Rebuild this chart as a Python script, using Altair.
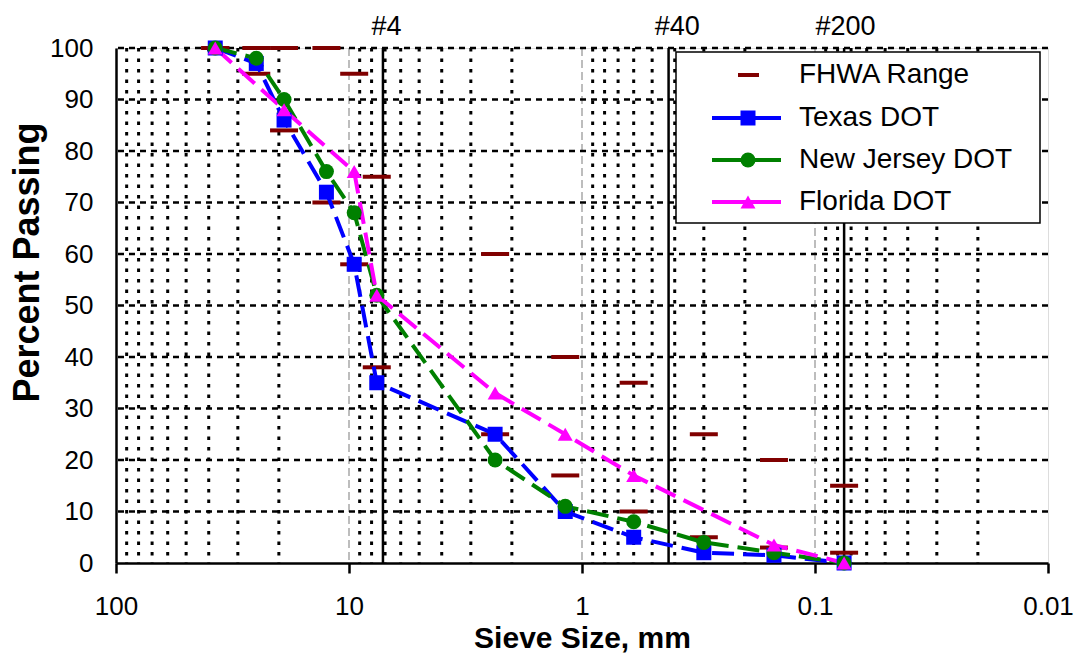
import altair as alt
import pandas as pd

# ---------------- data ----------------
sieve_mm = [37.5, 25, 19, 12.5, 9.5, 7.6, 2.36, 1.18, 0.6, 0.3, 0.15, 0.075]
fhwa_upper = [100, 100, 100, 100, 95, 75, 60, 40, 35, 25, 20, 15]
fhwa_lower = [100, 95, 84, 70, 58, 38, 25, 17, 10, 5, 3, 2]
texas_dot = [100, 97, 86, 72, 58, 35, 25, 10, 5, 2, 1.5, 0]
new_jersey_dot = [100, 98, 90, 76, 68, 52, 20, 11, 8, 4, 2, 0]
florida_dot = [100, None, 88, None, 76, 52, 33, 25, 17, None, 3.5, 0]

series_names = ["Texas DOT", "New Jersey DOT", "Florida DOT"]
series_colors = ["#0000FF", "#008000", "#FF00FF"]
series_shapes = ["square", "circle", "triangle-up"]
fhwa_name = "FHWA Range"
fhwa_color = "#800000"

sieve_names = ["#4", "#40", "#200"]
sieve_line_mm = [7.15, 0.425, 0.075]
sieve_label_mm = [6.9, 0.39, 0.074]

x_ticks = [100, 10, 1, 0.1, 0.01]
y_ticks = [0, 10, 20, 30, 40, 50, 60, 70, 80, 90, 100]
y_grid = [10, 20, 30, 40, 50, 60, 70, 80, 90, 100]
decade_lines = [10, 1, 0.1]
minor_mult = [2, 3, 4, 5, 6, 7, 8, 9]
decade_base = [10, 1, 0.1, 0.01]

# ---------------- tables ----------------
rows = []
for name, vals in zip(series_names, [texas_dot, new_jersey_dot, florida_dot]):
    for s, v in zip(sieve_mm, vals):
        if v is not None:
            rows.append({"series": name, "mm": s, "pct": v})
series_df = pd.DataFrame(rows)

fhwa_df = pd.DataFrame(
    [{"mm": s, "pct": v} for s, v in zip(sieve_mm, fhwa_upper)]
    + [{"mm": s, "pct": v} for s, v in zip(sieve_mm, fhwa_lower)]
)
minor_df = pd.DataFrame({"mm": [m * d for d in decade_base for m in minor_mult]})
decade_df = pd.DataFrame({"mm": decade_lines})
hgrid_df = pd.DataFrame({"pct": y_grid})
sieve_df = pd.DataFrame({"name": sieve_names, "mm": sieve_line_mm, "lab": sieve_label_mm})

FONT = "Liberation Sans"
W, H = 932, 515

xscale = alt.Scale(type="log", domain=[0.01, 100], reverse=True, nice=False)
yscale = alt.Scale(domain=[0, 100], nice=False, zero=False)

xaxis = alt.Axis(values=x_ticks, format="~g", title="Sieve Size, mm", grid=False,
                 tickSize=10, tickWidth=2.5, tickColor="black",
                 domainColor="black", domainWidth=2.5,
                 labelFontSize=26, labelPadding=20, labelColor="black",
                 labelFlush=False, labelOverlap=False, labelFont=FONT,
                 titleFontSize=30, titleFontWeight="bold", titleColor="black",
                 titleFont=FONT, titleY=84, titleBaseline="alphabetic")
yaxis = alt.Axis(values=y_ticks, title="Percent Passing", grid=False, ticks=False,
                 domainColor="black", domainWidth=2.5,
                 labelFontSize=26, labelPadding=23, labelColor="black",
                 labelFlush=False, labelOverlap=False, labelFont=FONT,
                 titleFontSize=36, titleFontWeight="bold", titleColor="black",
                 titleFont=FONT, titleX=-78, titleY=214, titleAngle=270,
                 titleAlign="center", titleBaseline="alphabetic")


def X(field="mm"):
    return alt.X(f"{field}:Q", scale=xscale, axis=xaxis)


def Y(field="pct"):
    return alt.Y(f"{field}:Q", scale=yscale, axis=yaxis)


decade = alt.Chart(decade_df).mark_rule(color="#9a9a9a", strokeWidth=1.3,
                                         strokeDash=[8, 4]).encode(x=X())
minor = alt.Chart(minor_df).mark_rule(color="black", strokeWidth=3,
                                       strokeDash=[3.5, 7]).encode(x=X())
hgrid = alt.Chart(hgrid_df).mark_rule(color="black", strokeWidth=2.5,
                                       strokeDash=[6, 5]).encode(y=Y())
sieves = alt.Chart(sieve_df).mark_rule(color="black", strokeWidth=2.5).encode(x=X())

fhwa = alt.Chart(fhwa_df).mark_rule(color=fhwa_color, strokeWidth=4,
                                     xOffset=-14, x2Offset=14).encode(
    x=X(), x2="mm:Q", y=Y())

color_scale = alt.Scale(domain=series_names, range=series_colors)
lines = alt.Chart(series_df).mark_line(strokeWidth=4, strokeDash=[22, 9]).encode(
    x=X(), y=Y(), color=alt.Color("series:N", scale=color_scale, legend=None),
    detail="series:N")
points = alt.Chart(series_df).mark_point(filled=True, opacity=1, size=225).encode(
    x=X(), y=Y(),
    color=alt.Color("series:N", scale=color_scale, legend=None),
    shape=alt.Shape("series:N", scale=alt.Scale(domain=series_names, range=series_shapes),
                    legend=None))

top_labels = alt.Chart(sieve_df).mark_text(fontSize=27, font=FONT, color="black",
                                            baseline="middle", align="center").encode(
    x=alt.X("lab:Q", scale=xscale, axis=xaxis), y=alt.value(27 - 48), text="name:N")

# ---------------- legend (drawn by hand, pixel layout inside plot area) ----------------
LX0, LX1, LY0, LY1 = 676 - 116, 1040 - 116, 52 - 48, 223 - 48
row_y = [75 - 48, 118 - 48, 160 - 48, 202 - 48]
sym_x0, sym_x1, sym_c, text_x = 712 - 116, 781 - 116, 748 - 116, 799 - 116

one = pd.DataFrame({"k": [0]})
legend_layers = [
    alt.Chart(one).mark_rect(fill="white", stroke="black", strokeWidth=1.5).encode(
        x=alt.value(LX0), x2=alt.value(LX1), y=alt.value(LY0), y2=alt.value(LY1))
]
legend_names = [fhwa_name] + series_names
for i, name in enumerate(legend_names):
    yy = row_y[i]
    if i == 0:
        legend_layers.append(alt.Chart(one).mark_rule(color=fhwa_color, strokeWidth=4).encode(
            x=alt.value(sym_c - 10), x2=alt.value(sym_c + 11), y=alt.value(yy)))
    else:
        c = series_colors[i - 1]
        legend_layers.append(alt.Chart(one).mark_rule(color=c, strokeWidth=4).encode(
            x=alt.value(sym_x0), x2=alt.value(sym_x1), y=alt.value(yy)))
        legend_layers.append(alt.Chart(one).mark_point(
            filled=True, opacity=1, size=225, color=c, shape=series_shapes[i - 1]).encode(
            x=alt.value(sym_c), y=alt.value(yy)))
    legend_layers.append(alt.Chart(one).mark_text(
        text=name, fontSize=28, font=FONT, color="black", align="left",
        baseline="middle").encode(x=alt.value(text_x), y=alt.value(yy)))

chart = alt.layer(decade, minor, hgrid, sieves, fhwa, lines, points, top_labels,
                  *legend_layers).properties(
    width=W, height=H,
    autosize=alt.AutoSizeParams(type="none"),
    padding={"left": 116, "top": 48, "right": 33, "bottom": 90},
    background="white",
).configure_view(stroke="#222222", strokeWidth=1.2).configure(font=FONT)

chart.save("out.html", embed_options={"renderer": "svg", "actions": False})
